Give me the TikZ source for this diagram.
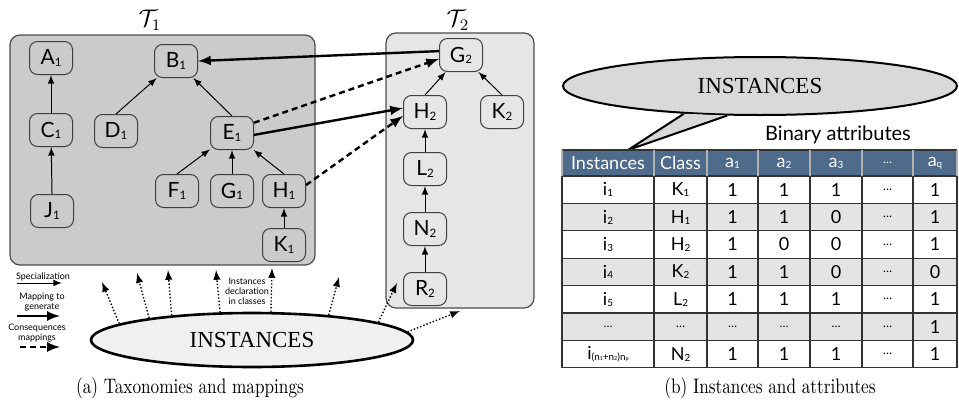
\documentclass[tikz,border=0pt]{standalone}
\usepackage{amsmath, amsfonts, amssymb}
\usepackage{fontspec}
\usepackage{tikz}
\usetikzlibrary{positioning, shapes.geometric}
\newfontfamily\gillfont{Lato}
\newfontfamily\serfont{Liberation Serif}
\newcommand{\dd}{{\fontsize{6}{7}\selectfont\ldots}}
\newcommand{\idx}[1]{\raisebox{-0.1ex}{\scalebox{0.55}{#1}}}
\definecolor{taxa}{HTML}{CBCBCB}
\definecolor{taxb}{HTML}{E6E6E6}
\definecolor{headblue}{HTML}{4E6B8C}
\definecolor{rowgray}{HTML}{E4E4E4}
\tikzset{
    taxbox/.style={draw=black!70, rounded corners=5pt, line width=0.6pt, inner sep=0pt},
    concept/.style={draw=black!75, rounded corners=4pt, line width=0.5pt, minimum width=21.5pt,
        minimum height=16.5pt, inner sep=0pt, font=\gillfont\fontsize{10.5}{12}\selectfont},
    spec/.style={-latex, line width=0.5pt},
    mapgen/.style={-latex, line width=1.2pt},
    mapcons/.style={-latex, line width=1.2pt, dash pattern=on 3pt off 2pt},
    decl/.style={-latex, line width=0.7pt, densely dotted},
    legend/.style={font=\gillfont\fontsize{4.5}{5}\selectfont, align=center, inner sep=0pt},
    cell/.style={font=\gillfont\fontsize{9}{10}\selectfont, inner sep=0pt},
    caption/.style={font=\fontsize{10.5}{12}\selectfont},
}
\begin{document}
\begin{tikzpicture}[x=0.5pt, y=-0.5pt]
            \useasboundingbox (0,0) rectangle (959,418);
            \node[taxbox, fill=taxa, minimum width=152.5pt, minimum height=115pt] (tax1) at (162.5,150) {};
            \node[taxbox, fill=taxb, minimum width=74pt, minimum height=137.5pt] (tax2) at (460,170.5) {};
            \node[font=\fontsize{12}{14}\selectfont] (lab1) at (150,20) {$\mathcal{T}_1$};
            \node[font=\fontsize{12}{14}\selectfont] (lab2) at (458,20) {$\mathcal{T}_2$};
            \foreach \n/\x/\y in {A/51/58, B/176/61, C/51/130, D/116/131, E/232/133,
                    F/177/191, G/232/191, H/284/191, J/52/211, K/284/245}{%
                    \node[concept, fill=taxa] (\n1) at (\x,\y) {\n\idx{1}};
                }
            \foreach \n/\x/\y in {G/461/55, H/425/112, K/502/112, L/425/169, N/425/229, R/425/289}{%
                    \node[concept, fill=taxb] (\n2) at (\x,\y) {\n\idx{2}};
                }
            \foreach \a/\b in {C1/A1, J1/C1, D1/B1, E1/B1, F1/E1, G1/E1, H1/E1, K1/H1,
                    H2/G2, K2/G2, L2/H2, N2/L2, R2/N2}{%
                    \draw[spec] (\a.north) -- (\b);
                }
            \draw[mapgen] (G2.170) -- (B1.east);
            \draw[mapgen] (E1.-5) -- (H2.170);
            \draw[mapcons] (E1.25) -- (G2.190);
            \draw[mapcons] (H1.15) -- (H2.190);
            \node[ellipse, draw, line width=1.3pt, fill=gray!12, minimum width=161pt, minimum height=27pt,
                inner sep=0pt, font=\serfont\fontsize{11.5}{13}\selectfont] (inst) at (252,340) {INSTANCES};
            \foreach \k/\a/\x/\y in {1/173/102/282, 2/168/137/273, 3/163/168/270, 4/139/216/270,
                    5/56/272/268, 6/18/339/277, 7/8/397/283, 8/3/460/311}{%
                    \coordinate (d\k) at (\x,\y);
                    \draw[decl] (inst.\a) -- (d\k);
                }
            \node[legend] (decltext) at (247,291) {Instances\\declaration\\in classes};
            \node[legend] (spectext) at (43,277) {Specialization};
            \node[legend] (gentext) at (42,302) {Mapping to\\generate};
            \node[legend] (constext) at (37,333) {Consequences\\mappings};
            \coordinate (s0) at (17,283);
            \coordinate (s1) at (62,283);
            \coordinate (g0) at (17,316);
            \coordinate (g1) at (60,316);
            \coordinate (c0) at (20,347);
            \coordinate (c1) at (60,347);
            \draw[spec] (s0) -- (s1);
            \draw[mapgen] (g0) -- (g1);
            \draw[mapcons] (c0) -- (c1);
            \node[ellipse, draw, line width=1pt, fill=gray!30, minimum width=197pt, minimum height=29pt,
                inner sep=0pt, font=\serfont\fontsize{11.5}{13}\selectfont] (bubble) at (760,86) {INSTANCES};
            \coordinate (tip) at (628,150);
            \filldraw[fill=gray!30, line width=1pt] (bubble.200) -- (tip) -- (bubble.222);
            \node[font=\gillfont\fontsize{10}{12}\selectfont] (binattr) at (838,135) {Binary attributes};
            \fill[headblue] (562,150) rectangle (957,176);
            \foreach \r in {2,4,6}{%
                    \fill[rowgray] (562,{176+27.4*(\r-1)}) rectangle (957,{176+27.4*\r});
                }
            \foreach \k in {0,...,7}{%
                    \draw[black!80, line width=0.6pt] (562,{176+27.4*\k}) -- (957,{176+27.4*\k});
                }
            \draw[black!80, line width=0.6pt] (562,150) -- (957,150);
            \foreach \x in {562,654,707,758,810,862,913,957}{%
                    \draw[black!80, line width=0.6pt] (\x,176) -- (\x,367.8);
                    \draw[gray!60, line width=0.6pt] (\x,150) -- (\x,176);
                }
            \foreach \h [count=\c] in {Instances, Class, a\idx{1}, a\idx{2}, a\idx{3}, \dd, a\idx{q}}{%
                    \pgfmathsetmacro\cx{{608,680.5,732.5,784,836,887.5,935}[\c-1]}
                    \node[cell, text=white] (h\c) at (\cx,163) {\h};
                }
            \foreach \row [count=\r] in {{i\idx{1},K\idx{1},1,1,1,\dd,1},
                    {i\idx{2},H\idx{1},1,1,0,\dd,1},
                    {i\idx{3},H\idx{2},1,0,0,\dd,1},
                    {i\idx{4},K\idx{2},1,1,0,\dd,0},
                    {i\idx{5},L\idx{2},1,1,1,\dd,1},
                    {\dd,\dd,\dd,\dd,\dd,\dd,1},
                    {i\idx{(n\idx{1}+n\idx{2})n\idx{p}},N\idx{2},1,1,1,\dd,1}}{%
                    \foreach \v [count=\c] in \row {%
                            \pgfmathsetmacro\cx{{608,680.5,732.5,784,836,887.5,935}[\c-1]}
                            \node[cell] (c\r-\c) at (\cx,{176+27.4*\r-13.7}) {\v};
                        }
                }
            \node[caption] (capa) at (190,388) {\scalebox{0.82}[1]{(a) Taxonomies and mappings}};
            \node[caption] (capb) at (770,388) {\scalebox{0.82}[1]{(b) Instances and attributes}};
        \end{tikzpicture}
\end{document}
